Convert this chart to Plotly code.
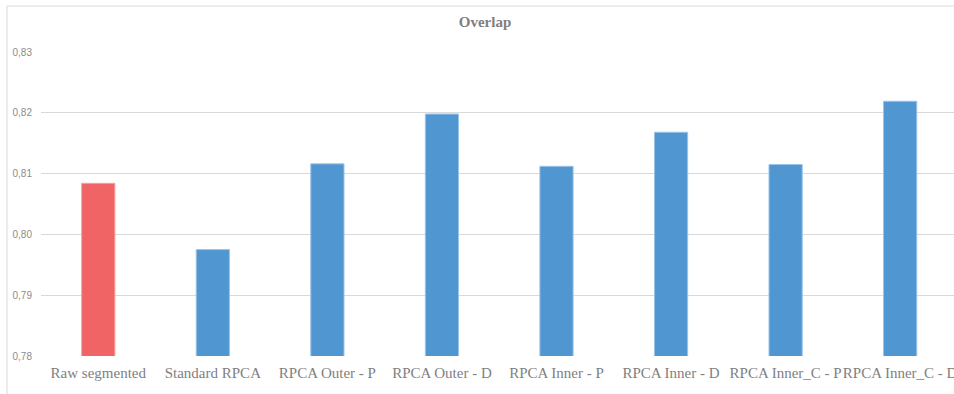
import plotly.graph_objects as go

# Overlap score per segmentation method
categories = ["Raw segmented", "Standard RPCA", "RPCA Outer - P", "RPCA Outer - D",
              "RPCA Inner - P", "RPCA Inner - D", "RPCA Inner_C - P", "RPCA Inner_C - D"]
overlap = [0.8084, 0.7975, 0.8116, 0.8198, 0.8112, 0.8168, 0.8115, 0.8219]
bar_colors = ["#F16465"] + ["#5097D2"] * 7
edge_colors = ["#F7A0A1"] + ["#9CC3E8"] * 7
y_ticks = [0.78, 0.79, 0.80, 0.81, 0.82, 0.83]

W, H = 954, 394
L, R, T, B = 41, 0, 52, 38
pw, ph = W - L - R, H - T - B

fig = go.Figure(go.Bar(
    x=categories, y=overlap,
    marker=dict(color=bar_colors, line=dict(color=edge_colors, width=1)),
    width=0.29,
))

fig.update_layout(
    width=W, height=H,
    margin=dict(l=L, r=R, t=T, b=B),
    paper_bgcolor="white", plot_bgcolor="white",
    separators=",.",
    showlegend=False,
    title=dict(text="<b>Overlap</b>", x=(485 - L) / pw, xref="paper", xanchor="center",
               y=(H - 22) / H, yanchor="middle",
               font=dict(family="Liberation Serif", size=15, color="#7F7F7F")),
    xaxis=dict(range=[-0.5, 7.47], showgrid=False, showline=False, ticks="",
               tickangle=0, automargin=False, ticklabelstandoff=6,
               tickfont=dict(family="Liberation Serif", size=15, color="#7F7F7F")),
    yaxis=dict(range=[0.78, 0.83], tickvals=y_ticks, tickformat=".2f",
               showgrid=True, gridcolor="#D9D9D9", gridwidth=1,
               zeroline=False, showline=False, ticks="",
               automargin=False, ticklabelstandoff=8,
               tickfont=dict(family="Liberation Sans", size=10, color="#8C8C8C")),
    shapes=[dict(type="rect", xref="paper", yref="paper",
                 x0=(7 - L) / pw, x1=1.05, y0=-0.2, y1=(H - B - 6) / ph,
                 line=dict(color="#D9D9D9", width=1), fillcolor="rgba(0,0,0,0)",
                 layer="below")],
)

fig.write_html("out.html")
